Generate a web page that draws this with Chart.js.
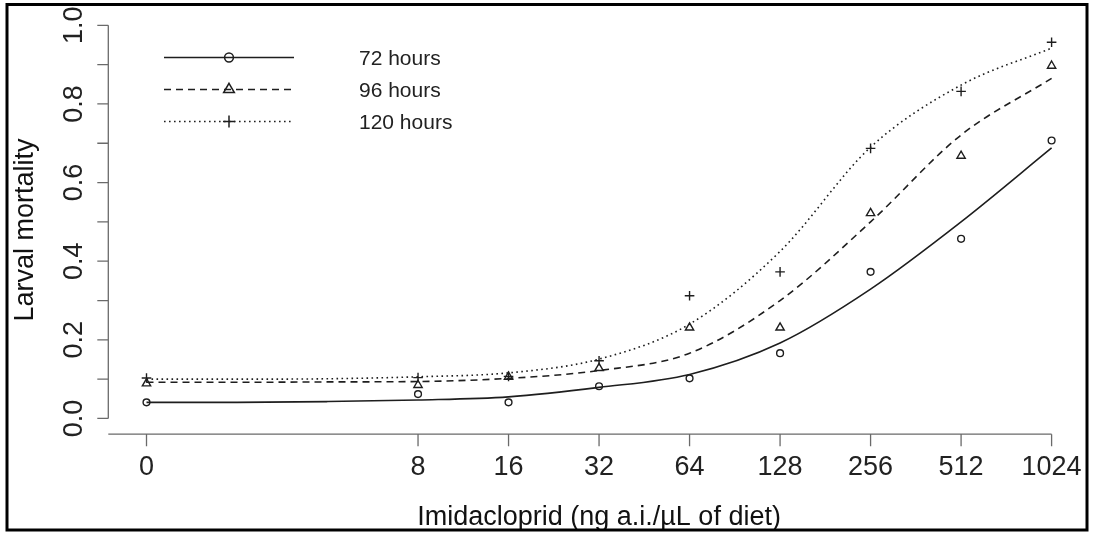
<!DOCTYPE html>
<html>
<head>
<meta charset="utf-8">
<script src="https://cdn.jsdelivr.net/npm/chart.js@4"></script>
<style>
  html, body { margin: 0; padding: 0; background: #fff; }
  #wrap { width: 1094px; height: 533px; }
</style>
</head>
<body>
<div id="wrap"><canvas id="chart" width="1094" height="533"></canvas></div>
<script>
// --- data ---
const doses = [0, 8, 16, 32, 64, 128, 256, 512, 1024];
const doseLabels = ['0', '8', '16', '32', '64', '128', '256', '512', '1024'];

// observed larval mortality
const mort72  = [0.041, 0.062, 0.041, 0.082, 0.102, 0.166, 0.373, 0.457, 0.707];
const mort96  = [0.089, 0.085, 0.106, 0.128, 0.231, 0.231, 0.522, 0.668, 0.897];
const mort120 = [0.103, 0.104, 0.107, 0.147, 0.312, 0.373, 0.687, 0.832, 0.957];

// fitted curves at log2(dose) positions
const fitPos = [0, 1, 2, 3, 4, 5, 6, 7, 8, 9, 10];
const fit72  = [0.041, 0.041, 0.043, 0.047, 0.055, 0.079, 0.112, 0.192, 0.329, 0.500, 0.688];
const fit96  = [0.092, 0.092, 0.093, 0.094, 0.102, 0.122, 0.166, 0.300, 0.500, 0.721, 0.865];
const fit120 = [0.100, 0.100, 0.101, 0.106, 0.116, 0.151, 0.240, 0.425, 0.690, 0.848, 0.942];

const yTicks = [0, 0.1, 0.2, 0.3, 0.4, 0.5, 0.6, 0.7, 0.8, 0.9, 1.0];
const yTickLabels = ['0.0', '', '0.2', '', '0.4', '', '0.6', '', '0.8', '', '1.0'];
const seriesNames = ['72 hours', '96 hours', '120 hours'];

// dose 0 sits where dose 1 would be on the log2 axis
function doseToPos(d) { return d === 0 ? 0 : Math.log2(d); }

const INK = '#1e1e1e';
const FONT = '"Liberation Sans", Arial, sans-serif';

const styles = [
    { dash: [], point: 'circle', radius: 3.4, legendRadius: 4.4 },
    { dash: [7, 5], point: 'triangle', radius: 4.8, legendRadius: 6.2 },
    { dash: [1.6, 3.4], point: 'cross', radius: 4.8, legendRadius: 6 }
];

function pts(xs, ys) { return xs.map((x, i) => ({ x: x, y: ys[i] })); }

const obs = [mort72, mort96, mort120];
const fits = [fit72, fit96, fit120];
const dosePos = doses.map(doseToPos);

let datasets = [];
fits.forEach((f, i) => {
    datasets.push({
        type: 'line',
        label: seriesNames[i] + ' fit',
        data: pts(fitPos, f),
        showLine: true,
        borderColor: INK,
        borderWidth: 1.6,
        borderDash: styles[i].dash,
        pointRadius: 0,
        fill: false,
        cubicInterpolationMode: 'monotone'
    });
});
obs.forEach((o, i) => {
    datasets.push({
        type: 'scatter',
        label: seriesNames[i],
        data: pts(dosePos, o),
        showLine: false,
        pointStyle: styles[i].point,
        pointRadius: styles[i].radius,
        pointBorderWidth: 1.4,
        pointBorderColor: INK,
        pointBackgroundColor: 'rgba(0,0,0,0)'
    });
});

// R style axes, legend and frame drawn on the library's scales
const rDecor = {
    id: 'rDecor',
    afterDraw(chart) {
        const ctx = chart.ctx;
        const xs = chart.scales.x, ys = chart.scales.y;
        ctx.save();

        // y axis
        const axX = xs.left - 2;
        ctx.strokeStyle = '#6a6a6a';
        ctx.lineWidth = 1.3;
        ctx.beginPath();
        ctx.moveTo(axX, ys.getPixelForValue(yTicks[0]));
        ctx.lineTo(axX, ys.getPixelForValue(yTicks[yTicks.length - 1]));
        yTicks.forEach(v => {
            const py = ys.getPixelForValue(v);
            ctx.moveTo(axX, py);
            ctx.lineTo(axX - 11, py);
        });
        // x axis
        const axY = ys.bottom;
        ctx.moveTo(axX, axY);
        ctx.lineTo(xs.getPixelForValue(dosePos[dosePos.length - 1]), axY);
        dosePos.forEach(p => {
            const px = xs.getPixelForValue(p);
            ctx.moveTo(px, axY);
            ctx.lineTo(px, axY + 12);
        });
        ctx.stroke();

        ctx.fillStyle = '#222';
        ctx.font = '27px ' + FONT;
        ctx.textAlign = 'center';
        ctx.textBaseline = 'alphabetic';
        dosePos.forEach((p, i) => {
            ctx.fillText(doseLabels[i], xs.getPixelForValue(p), axY + 41);
        });
        yTicks.forEach((v, i) => {
            if (!yTickLabels[i]) return;
            ctx.save();
            ctx.translate(axX - 26.5, ys.getPixelForValue(v));
            ctx.rotate(-Math.PI / 2);
            ctx.fillText(yTickLabels[i], 0, 0);
            ctx.restore();
        });

        // axis titles
        ctx.fillStyle = '#111';
        ctx.font = '27px ' + FONT;
        ctx.fillText('Imidacloprid (ng a.i./\u00b5L of diet)', (xs.left + xs.right) / 2, 525);
        ctx.save();
        ctx.translate(32.5, 230);
        ctx.rotate(-Math.PI / 2);
        ctx.fillText('Larval mortality', 0, 0);
        ctx.restore();

        // legend
        const rows = [57.5, 89.5, 121.5];
        ctx.font = '21px ' + FONT;
        ctx.textAlign = 'left';
        seriesNames.forEach((name, i) => {
            const y = rows[i];
            ctx.strokeStyle = INK;
            ctx.lineWidth = 1.6;
            ctx.setLineDash(styles[i].dash);
            ctx.beginPath();
            ctx.moveTo(164, y);
            ctx.lineTo(294, y);
            ctx.stroke();
            ctx.setLineDash([]);
            ctx.lineWidth = 1.5;
            ctx.fillStyle = 'rgba(0,0,0,0)';
            Chart.helpers.drawPoint(ctx, {
                pointStyle: styles[i].point, radius: styles[i].legendRadius, rotation: 0, borderWidth: 1.5
            }, 229, y);
            ctx.fillStyle = '#222';
            ctx.fillText(name, 359, y + 7.5);
        });

        // figure frame
        ctx.strokeStyle = '#000';
        ctx.lineWidth = 3;
        ctx.strokeRect(7, 4.5, 1080, 525.5);
        ctx.restore();
    }
};

new Chart(document.getElementById('chart').getContext('2d'), {
    type: 'scatter',
    data: { datasets: datasets },
    options: {
        responsive: false,
        animation: false,
        devicePixelRatio: 1,
        layout: { padding: { left: 110.3, right: 0.3, top: 9.6, bottom: 98.8 } },
        scales: {
            x: { type: 'linear', min: -0.4, max: 10.4, display: false },
            y: { type: 'linear', min: -0.04, max: 1.04, display: false }
        },
        plugins: { legend: { display: false }, tooltip: { enabled: false } }
    },
    plugins: [rDecor]
});
</script>
</body>
</html>
